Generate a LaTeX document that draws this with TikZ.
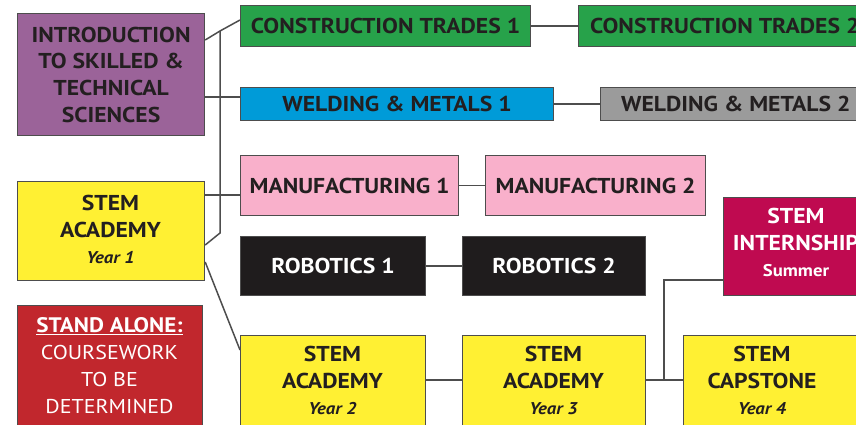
\documentclass[tikz,border=0pt]{standalone}
\usepackage{fontspec}
\setmainfont[FakeStretch=1.1]{PT Sans}
\definecolor{ink}{HTML}{231F20}
\definecolor{edge}{HTML}{4D4D4D}
\definecolor{cpurple}{HTML}{9B6399}
\definecolor{cyellow}{HTML}{FFF033}
\definecolor{cred}{HTML}{C1272D}
\definecolor{cgreen}{HTML}{27A24A}
\definecolor{cblue}{HTML}{009BD8}
\definecolor{cgray}{HTML}{9B9B9B}
\definecolor{cpink}{HTML}{F9B0CB}
\definecolor{cblack}{HTML}{1F1C1D}
\definecolor{ccrimson}{HTML}{BF0A50}
\tikzset{
  course/.style={draw=edge, line width=1.2pt, anchor=north west, inner sep=0pt},
  label/.style={font=\bfseries\fontsize{21.5}{26.7}\selectfont, text=ink, align=center, inner sep=0pt},
  link/.style={draw=edge, line width=1.5pt},
}
\newcommand{\yearfont}{\fontsize{17}{26.7}\selectfont}
\begin{document}
\begin{tikzpicture}[x=1pt,y=-1pt]
\useasboundingbox (0,0) rectangle (856,425);

% first column
\node[course, fill=cpurple, minimum width=187, minimum height=122] (intro) at (17,13) {};
\node[label] (introtext) at (intro.center)
  {INTRODUCTION\\TO SKILLED \&\\TECHNICAL\\SCIENCES};
\node[course, fill=cyellow, minimum width=187, minimum height=99] (y1) at (17,181) {};
\node[label, anchor=north] (y1text) at (110.5,195)
  {STEM\\ACADEMY\\{\itshape\fontsize{17}{32}\selectfont Year 1}};
\node[course, fill=cred, minimum width=185, minimum height=130] (alone) at (17,305) {};
\node[label, font=\fontsize{20}{27}\selectfont, text=white, anchor=north] (alonetext) at (109.5,317)
  {{\bfseries\fontsize{21}{27}\selectfont\underline{STAND ALONE:}}\\COURSEWORK\\TO BE\\DETERMINED};

% pathway rows
\node[course, fill=cgreen, minimum width=290, minimum height=41] (ct1) at (240,5) {};
\node[label] (ct1text) at (ct1.center) {CONSTRUCTION TRADES 1};
\node[course, fill=cgreen, minimum width=290, minimum height=41] (ct2) at (578,5) {};
\node[label, anchor=west] (ct2text) at ([xshift=12pt]ct2.west) {CONSTRUCTION TRADES 2};

\node[course, fill=cblue, minimum width=313, minimum height=33] (w1) at (240,87) {};
\node[label] (w1text) at (w1.center) {WELDING \& METALS 1};
\node[course, fill=cgray, minimum width=270, minimum height=33] (w2) at (600,87) {};
\node[label, anchor=west] (w2text) at ([xshift=21pt]w2.west) {WELDING \& METALS 2};

\node[course, fill=cpink, minimum width=218, minimum height=60] (m1) at (240,155) {};
\node[label] (m1text) at (m1.center) {MANUFACTURING 1};
\node[course, fill=cpink, minimum width=220, minimum height=60] (m2) at (485,155) {};
\node[label] (m2text) at (m2.center) {MANUFACTURING 2};

\node[course, fill=cblack, minimum width=185, minimum height=59] (r1) at (240,236) {};
\node[label, text=white] (r1text) at (r1.center) {ROBOTICS 1};
\node[course, fill=cblack, minimum width=183, minimum height=59] (r2) at (462,236) {};
\node[label, text=white] (r2text) at (r2.center) {ROBOTICS 2};

\node[course, fill=ccrimson, minimum width=150, minimum height=98] (intern) at (723,197) {};
\node[label, text=white, anchor=north] (interntext) at (796,208)
  {STEM\\INTERNSHIP\\{\yearfont Summer}};

% academy sequence
\node[course, fill=cyellow, minimum width=185, minimum height=100] (y2) at (240,335) {};
\node[label, anchor=north] (y2text) at (332.5,346)
  {STEM\\ACADEMY\\{\itshape\yearfont Year 2}};
\node[course, fill=cyellow, minimum width=183, minimum height=100] (y3) at (462,335) {};
\node[label, anchor=north] (y3text) at (553.5,346)
  {STEM\\ACADEMY\\{\itshape\yearfont Year 3}};
\node[course, fill=cyellow, minimum width=180, minimum height=100] (cap) at (683,335) {};
\node[label, anchor=north] (captext) at (762,346)
  {STEM\\CAPSTONE\\{\itshape\yearfont Year 4}};

% connectors
\coordinate (split) at (220,31);
\coordinate (foot) at (220,233);
\coordinate (hub) at (664,380);
\draw[link] (intro.east |- 0,40) -- (split) -- (ct1.west |- 0,20);
\draw[link] (split) -- (foot) -- (y1.east |- 0,245);
\draw[link] (intro.east |- 0,97) -- (w1.west |- 0,97);
\draw[link] (y1.east |- 0,195) -- (m1.west |- 0,195);
\draw[link] (y1.east |- 0,262) -- (y2.west |- 0,350);
\draw[link] (ct1) -- (ct2.west |- ct1);
\draw[link] (w1) -- (w2.west |- w1);
\draw[link] (m1) -- (m2);
\draw[link] (r1) -- (r2);
\draw[link] (y2.east |- 0,380) -- (y3.west |- 0,380);
\draw[link] (y3.east |- hub) -- (cap.west |- hub);
\draw[link] (hub) |- (intern.west |- 0,280);
\end{tikzpicture}
\end{document}
